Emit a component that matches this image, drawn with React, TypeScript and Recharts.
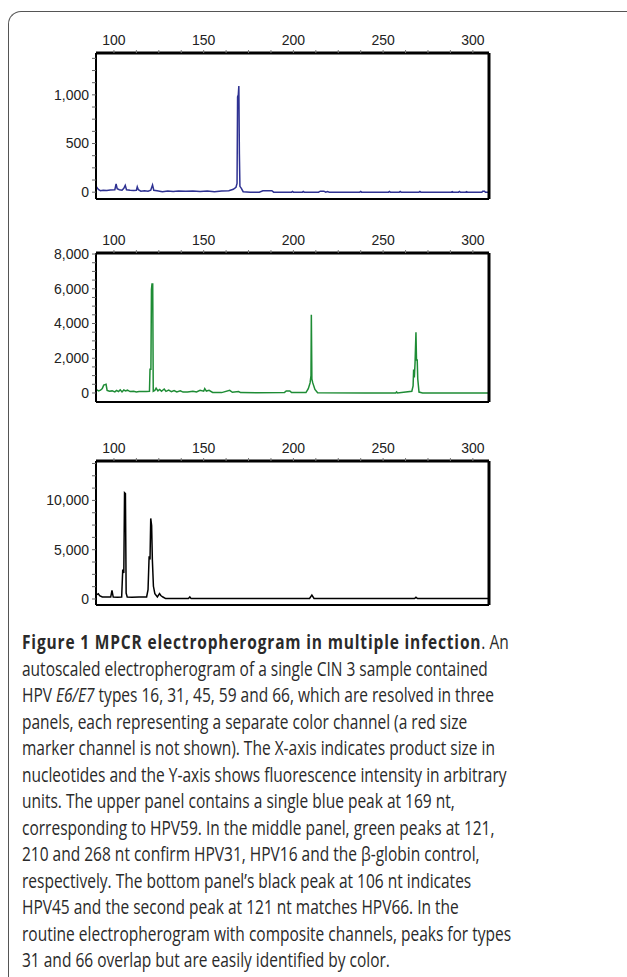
import React from "react";
import { LineChart, Line, XAxis, YAxis } from "recharts";

// product size axis (nt)
const sizeDomain = [90, 309];
const sizeTicks = [100, 112.5, 125, 137.5, 150, 162.5, 175, 187.5, 200, 212.5, 225, 237.5, 250, 262.5, 275, 287.5, 300];
const sizeLabels = [100, 150, 200, 250, 300];

// blue channel (upper panel)
const blueNt = [
  90.3, 90.8, 91.5, 92.5, 94, 96, 98, 100.5, 101.2, 101.8, 103, 104.5, 105.5, 106.3, 107, 109, 111, 112.5, 113, 113.6,
  115, 117, 119, 120.5, 121.5, 122.2, 124, 127, 130, 133, 136, 140, 144, 148, 152, 156, 160, 164, 166.5, 168,
  168.6, 168.9, 169.3, 169.6, 169.9, 170.2, 171, 172, 176, 181, 183, 188, 189, 199, 199.5, 200, 205, 205.5, 206, 214,
  215, 217, 218, 219, 220, 237, 237.5, 238, 253, 253.5, 254, 259, 259.5, 260, 270, 270.5, 271, 288, 288.5, 289,
  292, 292.5, 293, 296, 296.5, 297, 305, 305.5, 306.5, 307, 309,
];
const blueRfu = [
  55, 40, 25, 15, 20, 18, 22, 25, 85, 35, 25, 20, 40, 70, 25, 20, 18, 20, 55, 25,
  10, 15, 10, 20, 75, 20, 15, 5, 12, 8, 12, 10, 12, 8, 12, 5, 12, 15, 30, 50,
  90, 980, 1000, 1090, 400, 60, 40, 5, 0, 0, 15, 15, 0, 0, 8, 0, 0, 8, 0, 0,
  10, 10, 0, 6, 0, 0, 8, 0, 0, 8, 0, 0, 7, 0, 0, 7, 0, 0, 6, 0,
  0, 7, 0, 0, 6, 0, 0, 10, 10, 0, 0,
];
const blueDomain = [-70, 1430];
const blueTicks = [0, 125, 250, 375, 500, 625, 750, 875, 1000, 1125, 1250, 1375];
const blueLabels = [0, 500, 1000];

// green channel (middle panel)
const greenNt = [
  90.5, 91.5, 92.5, 93.5, 94.3, 95, 95.6, 96.2, 97.5, 99, 100.5, 101.5, 102.5, 103.5, 104.5, 105.5, 106.5, 107.5, 109, 111,
  112.5, 114, 116, 118, 119.8, 120.1, 120.6, 120.9, 121.2, 121.6, 121.9, 122.8, 123.5, 124.5, 125.5, 126.5, 128, 129, 130.5, 132,
  133.5, 135, 137, 138.5, 141, 144, 146, 148, 150, 150.6, 151.5, 153, 155, 160, 164.5, 166, 169.5, 170.5, 180, 195,
  196, 198, 199, 207, 208.3, 209.3, 209.8, 210, 210.3, 210.8, 212, 213.5, 240, 257, 257.5, 258, 266, 266.7, 267, 267.4,
  267.8, 268.3, 268.6, 269, 269.3, 270, 272, 309,
];
const greenRfu = [
  180, 120, 160, 250, 450, 480, 500, 150, 100, 120, 60, 150, 80, 180, 60, 170, 120, 160, 80, 100,
  60, 80, 90, 80, 90, 1370, 1370, 5950, 6270, 6270, 100, 150, 280, 120, 200, 100, 230, 90, 160, 80,
  140, 60, 130, 50, 60, 100, 60, 150, 100, 250, 110, 150, 30, 20, 150, 40, 80, 20, 10, 20,
  120, 120, 20, 20, 250, 580, 1000, 4500, 800, 580, 200, 10, 0, 0, 60, 0, 100, 400, 1350, 900,
  1750, 3490, 1900, 1900, 800, 50, 0, 0,
];
const greenDomain = [-520, 8060];
const greenTicks = [0, 500, 1000, 1500, 2000, 2500, 3000, 3500, 4000, 4500, 5000, 5500, 6000, 6500, 7000, 7500, 8000];
const greenLabels = [0, 2000, 4000, 6000, 8000];

// black channel (bottom panel)
const blackNt = [
  90.5, 91.3, 92, 93.5, 96, 98.2, 98.9, 99.6, 102, 104.3, 104.9, 105.5, 105.9, 106.4, 106.8, 107.4, 110, 114, 118.2, 119,
  119.6, 120.1, 120.5, 121, 121.4, 122, 122.8, 124.2, 125.4, 126.1, 127.3, 128.8, 135, 141.5, 142.3, 143, 160, 200, 209, 210.3,
  211.5, 230, 267.5, 268.3, 269.2, 309,
];
const blackRfu = [
  450, 540, 340, 200, 190, 200, 880, 200, 180, 200, 2980, 2640, 10780, 10700, 600, 200, 180, 190, 200, 950,
  4340, 4000, 8170, 7460, 4000, 1290, 540, 200, 540, 350, 200, 40, 40, 40, 200, 40, 40, 40, 50, 400,
  60, 40, 50, 170, 50, 40,
];
const blackDomain = [-610, 14000];
const blackTicks = [0, 1250, 2500, 3750, 5000, 6250, 7500, 8750, 10000, 11250, 12500, 13750];
const blackLabels = [0, 5000, 10000];

const captionLines: React.ReactNode[] = [
  <>
    <b style={{ letterSpacing: 1.05 }}>Figure 1 MPCR electropherogram in multiple infection</b>. An
  </>,
  "autoscaled electropherogram of a single CIN 3 sample contained",
  <>
    HPV <i>E6/E7</i> types 16, 31, 45, 59 and 66, which are resolved in three
  </>,
  "panels, each representing a separate color channel (a red size",
  "marker channel is not shown). The X-axis indicates product size in",
  "nucleotides and the Y-axis shows fluorescence intensity in arbitrary",
  "units. The upper panel contains a single blue peak at 169 nt,",
  "corresponding to HPV59. In the middle panel, green peaks at 121,",
  "210 and 268 nt confirm HPV31, HPV16 and the \u03b2-globin control,",
  "respectively. The bottom panel\u2019s black peak at 106 nt indicates",
  "HPV45 and the second peak at 121 nt matches HPV66. In the",
  "routine electropherogram with composite channels, peaks for types",
  "31 and 66 overlap but are easily identified by color.",
];

const tickFont = { fill: "#222", fontSize: 14, fontFamily: "Liberation Sans, Arial, sans-serif" };

function Panel({ nt, rfu, color, domain, ticks, labels, top, marginBottom }: any) {
  const data = nt.map((x: number, i: number) => ({ nt: x, rfu: rfu[i] }));
  return (
    <div style={{ position: "absolute", left: 0, top }}>
      <LineChart width={520} height={220} data={data} margin={{ top: 23, right: 30, left: 36, bottom: marginBottom }}>
        <XAxis
          xAxisId="top"
          orientation="top"
          type="number"
          dataKey="nt"
          domain={sizeDomain}
          allowDataOverflow
          ticks={sizeTicks}
          interval={0}
          tickFormatter={(v) => (sizeLabels.includes(v) ? String(v) : "")}
          tick={tickFont}
          tickSize={3}
          tickMargin={5}
          tickLine={{ stroke: "#777" }}
          axisLine={{ stroke: "#000", strokeWidth: 3 }}
          height={30}
        />
        <XAxis
          xAxisId="bottom"
          orientation="bottom"
          type="number"
          dataKey="nt"
          domain={sizeDomain}
          allowDataOverflow
          tick={false}
          tickLine={false}
          axisLine={{ stroke: "#000", strokeWidth: 2 }}
          height={1}
        />
        <YAxis
          yAxisId="left"
          type="number"
          domain={domain}
          allowDataOverflow
          ticks={ticks}
          interval={0}
          tickFormatter={(v) => (labels.includes(v) ? v.toLocaleString("en-US") : "")}
          tick={tickFont}
          tickSize={4}
          tickMargin={3}
          tickLine={{ stroke: "#666" }}
          axisLine={{ stroke: "#000", strokeWidth: 2 }}
          width={60}
        />
        <YAxis
          yAxisId="right"
          orientation="right"
          type="number"
          domain={domain}
          tick={false}
          tickLine={false}
          axisLine={{ stroke: "#000", strokeWidth: 3 }}
          width={1}
        />
        <Line
          xAxisId="top"
          yAxisId="left"
          type="linear"
          dataKey="rfu"
          stroke={color}
          strokeWidth={1.5}
          dot={false}
          isAnimationActive={false}
        />
      </LineChart>
    </div>
  );
}

export default function App() {
  return (
    <div style={{ position: "relative", width: 627, height: 977, overflow: "hidden", background: "#fff" }}>
      <style>{`body{margin:0}`}</style>
      <div
        style={{
          position: "absolute",
          left: 8,
          top: 11,
          right: -10,
          bottom: -10,
          borderTop: "1px solid #555",
          borderLeft: "1px solid #555",
          borderTopLeftRadius: 13,
        }}
      />
      <Panel nt={blueNt} rfu={blueRfu} color="#2e3192" domain={blueDomain} ticks={blueTicks} labels={blueLabels} top={0} marginBottom={20} />
      <Panel nt={greenNt} rfu={greenRfu} color="#1e8c35" domain={greenDomain} ticks={greenTicks} labels={greenLabels} top={200} marginBottom={17} />
      <Panel nt={blackNt} rfu={blackRfu} color="#000" domain={blackDomain} ticks={blackTicks} labels={blackLabels} top={408} marginBottom={22} />
      <div
        style={{
          position: "absolute",
          left: 22,
          top: 629,
          fontFamily: "'Open Sans', sans-serif",
          fontSize: 19.5,
          lineHeight: "26.5px",
          color: "#2a2a2a",
          whiteSpace: "nowrap",
          transform: "scaleX(0.795)",
          transformOrigin: "left top",
        }}
      >
        {captionLines.map((line, i) => (
          <div key={i}>{line}</div>
        ))}
      </div>
    </div>
  );
}
